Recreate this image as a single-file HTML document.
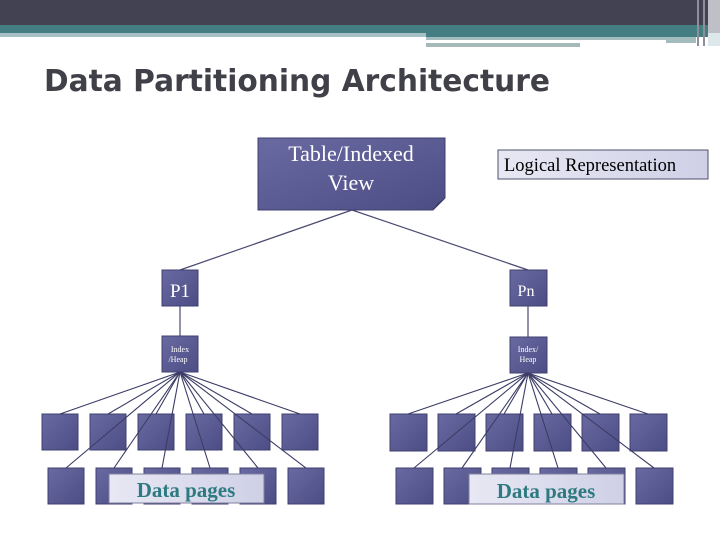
<!DOCTYPE html>
<html><head><meta charset="utf-8"><style>
html,body{margin:0;padding:0;width:720px;height:540px;overflow:hidden;background:#fff}
</style></head><body>
<svg width="720" height="540" viewBox="0 0 720 540" xmlns="http://www.w3.org/2000/svg">
<defs>
<linearGradient id="g" x1="0" y1="0" x2="1" y2="1">
<stop offset="0" stop-color="#6a6aa2"/><stop offset="1" stop-color="#4d4d85"/></linearGradient>
<linearGradient id="lg" x1="0" y1="0" x2="1" y2="0">
<stop offset="0" stop-color="#e8e8f4"/><stop offset="1" stop-color="#cfd0e6"/></linearGradient>
</defs>
<rect x="0" y="0" width="720" height="25" fill="#424253"/>
<rect x="0" y="25" width="720" height="8" fill="#447e83"/>
<rect x="0" y="33" width="426" height="4" fill="#a5c1c5"/>
<rect x="426" y="33" width="294" height="4" fill="#447e83"/>
<rect x="426" y="37" width="240" height="3" fill="#a5bcbe"/>
<rect x="426" y="43" width="154" height="4" fill="#a5b9ba"/>
<rect x="666" y="37" width="30" height="6" fill="#a5bcbe"/>
<rect x="697" y="0" width="2" height="46" fill="#8f8f9c"/>
<rect x="703" y="0" width="2" height="46" fill="#8f8f9c"/>
<rect x="708" y="0" width="12" height="33" fill="#bfbfc8"/>
<rect x="708" y="33" width="12" height="13" fill="#dce8ea"/>
<text x="44" y="91" font-family="DejaVu Sans, sans-serif" font-size="30" font-weight="bold" fill="#404048" textLength="506" lengthAdjust="spacingAndGlyphs">Data Partitioning Architecture</text>

<g stroke="#4a4a72" stroke-width="1.2" fill="none">
<line x1="352" y1="210" x2="180" y2="270"/><line x1="352" y1="210" x2="528" y2="270"/>
<line x1="180" y1="306" x2="180" y2="336"/><line x1="528" y1="306" x2="528" y2="337"/>
</g>

<path d="M258 138 H445 V198 L433 210 H258 Z" fill="url(#g)" stroke="#3f3f70"/>
<path d="M433 210 L445 198 L437 204 Z" fill="#3a3a5a"/>
<text font-family="Liberation Serif, serif" font-size="22" fill="#fff" text-anchor="middle"><tspan x="351" y="161">Table/Indexed</tspan><tspan x="351" y="190">View</tspan></text>
<rect x="498" y="150" width="210" height="29" fill="url(#lg)" stroke="#50506a"/>
<text x="504" y="171" font-family="Liberation Serif, serif" font-size="18.5" fill="#000">Logical Representation</text>

<g fill="url(#g)" stroke="#3f3f70">
<rect x="162" y="270" width="36" height="36"/><rect x="162" y="336" width="36" height="36"/>
<rect x="510" y="270" width="37" height="36"/><rect x="510" y="337" width="37" height="36"/>
<rect x="42" y="414" width="36" height="36"/><rect x="90" y="414" width="36" height="36"/><rect x="138" y="414" width="36" height="36"/><rect x="186" y="414" width="36" height="36"/><rect x="234" y="414" width="36" height="36"/><rect x="282" y="414" width="36" height="36"/>
<rect x="48" y="468" width="36" height="36"/><rect x="96" y="468" width="36" height="36"/><rect x="144" y="468" width="36" height="36"/><rect x="192" y="468" width="36" height="36"/><rect x="240" y="468" width="36" height="36"/><rect x="288" y="468" width="36" height="36"/>
<rect x="390" y="414" width="37" height="37"/><rect x="438" y="414" width="37" height="37"/><rect x="486" y="414" width="37" height="37"/><rect x="534" y="414" width="37" height="37"/><rect x="582" y="414" width="37" height="37"/><rect x="630" y="414" width="37" height="37"/>
<rect x="396" y="468" width="37" height="36"/><rect x="444" y="468" width="37" height="36"/><rect x="492" y="468" width="37" height="36"/><rect x="540" y="468" width="37" height="36"/><rect x="588" y="468" width="37" height="36"/><rect x="636" y="468" width="37" height="36"/>
</g>
<g stroke="#3c3c66" stroke-width="1.1" fill="none">
<line x1="180" y1="372" x2="60" y2="414"/><line x1="180" y1="372" x2="108" y2="414"/><line x1="180" y1="372" x2="156" y2="414"/><line x1="180" y1="372" x2="204" y2="414"/><line x1="180" y1="372" x2="252" y2="414"/><line x1="180" y1="372" x2="300" y2="414"/>
<line x1="180" y1="372" x2="66" y2="468"/><line x1="180" y1="372" x2="114" y2="468"/><line x1="180" y1="372" x2="162" y2="468"/><line x1="180" y1="372" x2="210" y2="468"/><line x1="180" y1="372" x2="258" y2="468"/><line x1="180" y1="372" x2="306" y2="468"/>
<line x1="528" y1="373" x2="408" y2="414"/><line x1="528" y1="373" x2="456" y2="414"/><line x1="528" y1="373" x2="504" y2="414"/><line x1="528" y1="373" x2="552" y2="414"/><line x1="528" y1="373" x2="600" y2="414"/><line x1="528" y1="373" x2="648" y2="414"/>
<line x1="528" y1="373" x2="414" y2="468"/><line x1="528" y1="373" x2="462" y2="468"/><line x1="528" y1="373" x2="510" y2="468"/><line x1="528" y1="373" x2="558" y2="468"/><line x1="528" y1="373" x2="606" y2="468"/><line x1="528" y1="373" x2="654" y2="468"/>
</g>
<text font-family="Liberation Serif, serif" fill="#fff" text-anchor="middle">
<tspan x="180" y="297" font-size="19">P1</tspan><tspan x="528" y="296" font-size="16">Pn</tspan>
<tspan x="180" y="352" font-size="8">Index</tspan><tspan x="180" y="362" font-size="8">/Heap</tspan>
<tspan x="528" y="352" font-size="8">Index/</tspan><tspan x="528" y="362" font-size="8">Heap</tspan>
</text>

<rect x="109" y="474" width="155" height="29" fill="url(#lg)" stroke="#8080a0"/>
<text x="186" y="497" font-family="Liberation Serif, serif" font-size="21" font-weight="bold" fill="#2d7a80" text-anchor="middle">Data pages</text>
<rect x="469" y="474" width="155" height="30" fill="url(#lg)" stroke="#8080a0"/>
<text x="546" y="498" font-family="Liberation Serif, serif" font-size="21" font-weight="bold" fill="#2d7a80" text-anchor="middle">Data pages</text>
</svg>
</body></html>
